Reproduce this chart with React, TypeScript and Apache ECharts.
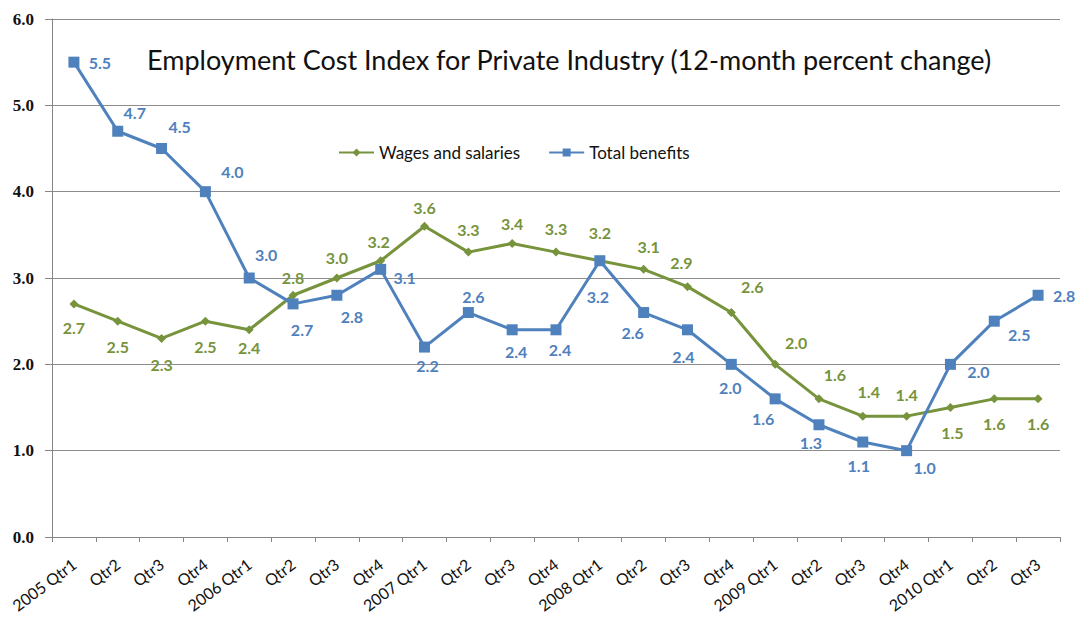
import React, { useEffect, useRef } from "react";
import * as echarts from "echarts";

const categories = [
  "2005 Qtr1", "Qtr2", "Qtr3", "Qtr4",
  "2006 Qtr1", "Qtr2", "Qtr3", "Qtr4",
  "2007 Qtr1", "Qtr2", "Qtr3", "Qtr4",
  "2008 Qtr1", "Qtr2", "Qtr3", "Qtr4",
  "2009 Qtr1", "Qtr2", "Qtr3", "Qtr4",
  "2010 Qtr1", "Qtr2", "Qtr3",
];

const wagesAndSalaries = [
  2.7, 2.5, 2.3, 2.5, 2.4, 2.8, 3.0, 3.2, 3.6, 3.3, 3.4, 3.3,
  3.2, 3.1, 2.9, 2.6, 2.0, 1.6, 1.4, 1.4, 1.5, 1.6, 1.6,
];

const totalBenefits = [
  5.5, 4.7, 4.5, 4.0, 3.0, 2.7, 2.8, 3.1, 2.2, 2.6, 2.4, 2.4,
  3.2, 2.6, 2.4, 2.0, 1.6, 1.3, 1.1, 1.0, 2.0, 2.5, 2.8,
];

const yTicks = [0, 1, 2, 3, 4, 5, 6];

const TITLE = "Employment Cost Index for Private Industry (12-month percent change)";
const SERIES_NAMES = ["Wages and salaries", "Total benefits"];

// label placement (pixel offsets from each point)
const wageLabelOffsets: number[][] = [
  [0, 24], [0, 25], [0, 26], [0, 25], [0, 18], [0, -18], [0, -21], [-2, -19],
  [0, -19], [0, -23], [0, -20], [0, -24], [0, -28], [5, -23], [-6, -24],
  [21, -26], [21, -22], [16, -24], [6, -25], [0, -22], [2, 25], [0, 25], [0, 25],
];
const benefitLabelOffsets: number[][] = [
  [26, 0], [17, -19], [18, -22], [27, -20], [17, -24], [9, 26], [15, 21], [24, 8],
  [3, 18], [5, -16], [4, 22], [4, 20], [-2, 36], [-11, 20], [-4, 27],
  [-1, 23], [-12, 20], [-8, 18], [-4, 23], [18, 17], [28, 7], [25, 13], [26, 0],
];

const GREEN = "#77933C";
const BLUE = "#4F81BD";

export default function App() {
  const ref = useRef<HTMLDivElement>(null);
  useEffect(() => {
    if (!ref.current) return;
    const chart = echarts.init(ref.current, undefined, { renderer: "svg" });
    const labelBase = {
      show: true,
      position: "inside",
      fontFamily: "Lato",
      fontSize: 16,
      fontWeight: "bold",
      formatter: (p: any) => Number(p.value).toFixed(1),
    };
    chart.setOption({
      animation: false,
      backgroundColor: "#ffffff",
      title: {
        text: TITLE,
        left: 142,
        top: 41,
        textStyle: {
          fontFamily: "Lato",
          fontSize: 27,
          fontWeight: "normal",
          color: "#111111",
        },
      },
      legend: {
        left: 333,
        top: 139,
        itemWidth: 35,
        itemHeight: 10,
        itemGap: 28,
        data: SERIES_NAMES,
        textStyle: { fontFamily: "Lato", fontSize: 17, color: "#111111" },
      },
      grid: {
        left: 52,
        right: 15,
        top: 19,
        bottom: 82,
        containLabel: false,
        outerBoundsMode: "none",
      },
      xAxis: {
        type: "category",
        data: categories,
        boundaryGap: true,
        axisLine: { lineStyle: { color: "#868686", width: 1 } },
        axisTick: { show: true, length: 5, alignWithLabel: false, lineStyle: { color: "#868686" } },
        axisLabel: {
          interval: 0,
          rotate: 37,
          margin: 25,
          fontFamily: "Lato",
          fontSize: 16,
          color: "#111111",
        },
      },
      yAxis: {
        type: "value",
        min: yTicks[0],
        max: yTicks[yTicks.length - 1],
        interval: 1,
        axisLine: { show: true, lineStyle: { color: "#868686", width: 1 } },
        axisTick: { show: true, inside: false, length: 7, lineStyle: { color: "#868686" } },
        splitLine: { show: true, lineStyle: { color: "#8c8c8c", width: 1 } },
        axisLabel: {
          margin: 18,
          fontFamily: "Liberation Serif",
          fontWeight: "bold",
          fontSize: 17,
          color: "#111111",
          formatter: (v: number) => v.toFixed(1),
        },
      },
      series: [
        {
          name: SERIES_NAMES[0],
          type: "line",
          data: wagesAndSalaries.map((v, i) => ({
            value: v,
            label: { offset: wageLabelOffsets[i] },
          })),
          color: GREEN,
          symbol: "diamond",
          symbolSize: 9,
          lineStyle: { color: GREEN, width: 3 },
          itemStyle: { color: GREEN },
          label: { ...labelBase, color: GREEN },
          z: 3,
        },
        {
          name: SERIES_NAMES[1],
          type: "line",
          data: totalBenefits.map((v, i) => ({
            value: v,
            label: { offset: benefitLabelOffsets[i] },
          })),
          color: BLUE,
          symbol: "rect",
          symbolSize: 11,
          lineStyle: { color: BLUE, width: 3 },
          itemStyle: { color: BLUE },
          label: { ...labelBase, color: BLUE },
          z: 4,
        },
      ],
    });
    return () => chart.dispose();
  }, []);
  return (
    <div
      ref={ref}
      style={{ position: "fixed", left: 0, top: 0, width: 1075, height: 619, background: "#fff" }}
    />
  );
}
